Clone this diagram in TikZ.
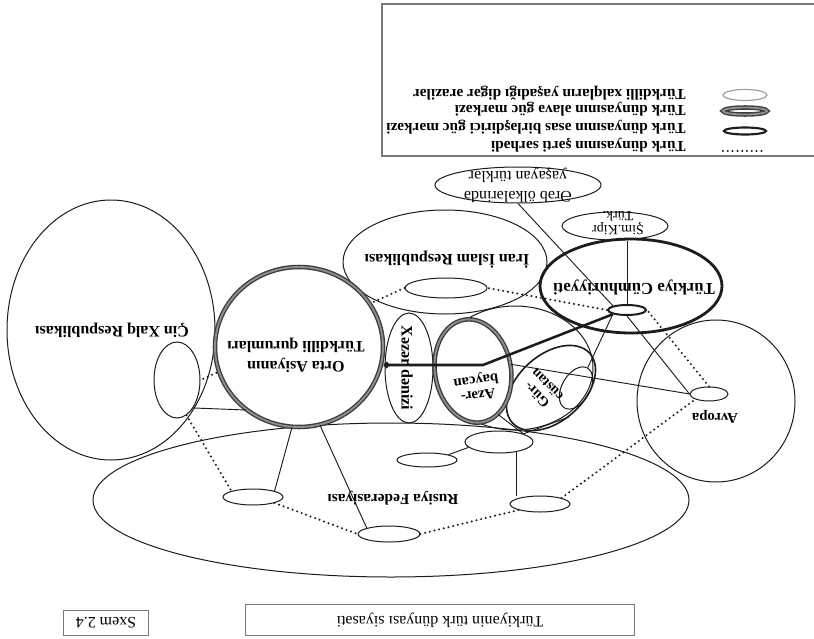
\documentclass[tikz,border=0pt]{standalone}
\usepackage{fontspec}
\setmainfont{Liberation Serif}
\usetikzlibrary{arrows.meta,shapes.geometric}
\definecolor{InkBlack}{HTML}{1C1C1C}
\definecolor{RingGray}{HTML}{3C3C3C}
\definecolor{RingCore}{HTML}{8E8E8E}
\definecolor{PaleLine}{HTML}{A0A0A0}
\definecolor{FrameGray}{HTML}{7A7A7A}

\begin{document}
\begin{tikzpicture}[
  x=0.75pt, y=-0.75pt,
  esize/.style 2 args={minimum width=#1*1.5pt, minimum height=#2*1.5pt},
  region/.style={ellipse, draw=InkBlack, line width=0.75pt, inner sep=0pt},
  power/.style={ellipse, draw=RingGray, line width=1pt, double=RingCore,
    double distance=1.4pt, inner sep=0pt},
  core/.style={ellipse, draw=InkBlack, line width=2.1pt, inner sep=0pt},
  border/.style={draw=InkBlack, line width=1.7pt, line cap=round,
    dash pattern=on 0pt off 3.6pt},
  link/.style={draw=InkBlack, line width=0.7pt},
  route/.style={-{Circle[length=4.5pt]}, draw=InkBlack, line width=1.9pt},
  lbl/.style={rotate=180, align=center, inner sep=0pt,
    font=\bfseries\fontsize{12}{15}\selectfont},
  note/.style={rotate=180, align=center, inner sep=0pt,
    font=\fontsize{12}{14}\selectfont},
  legtext/.style={rotate=180, anchor=west, inner sep=0pt,
    font=\bfseries\fontsize{11.5}{13}\selectfont},
  caption/.style={rotate=180, draw=FrameGray, line width=0.9pt,
    font=\fontsize{12}{14}\selectfont}
]
\fill[white] (0,0) rectangle (814,639);
\useasboundingbox (0,0) rectangle (814,639);

% legend
\draw[FrameGray, line width=1pt] (814,4) -| (382,156) -- (814,156);
\node[region, draw=PaleLine, line width=0.9pt, esize={22}{5.5}] (legLight) at (745,95) {};
\node[power, esize={22}{3.5}] (legPower) at (745,111) {};
\node[core, line width=1.6pt, esize={21}{3.5}] (legCore) at (745,131) {};
\coordinate (legDotA) at (723,151);
\coordinate (legDotB) at (763,151);
\draw[border] (legDotA) -- (legDotB);
\node[legtext] (legTxtA) at (686,93) {Türkdilli xalqların yaşadığı digər ərazilər};
\node[legtext] (legTxtB) at (686,109) {Türk dünyasının əlavə güc mərkəzi};
\node[legtext] (legTxtC) at (686,127) {Türk dünyasının əsas birləşdirici güc mərkəzi};
\node[legtext] (legTxtD) at (686,145) {Türk dünyasının şərti sərhədi};

% regions
\node[region, esize={298}{77}] (rusiya) at (391,500) {};
\node[region, esize={104}{130}] (cin) at (111,330) {};
\node[region, esize={23}{38}] (cinIn) at (177,380) {};
\node[region, esize={79}{81}] (avropa) at (716,401) {};
\node[region, esize={19}{7}] (avrIn) at (709,394) {};
\node[region, esize={102}{52}] (iran) at (445,262) {};
\node[region, esize={41}{10}] (iranIn) at (446,288) {};
\node[region, esize={83}{18}] (ereb) at (518,185) {};
\node[region, esize={53}{14}] (kipr) at (615,226) {};
\node[region, esize={78}{62}] (qafqaz) at (515,368) {};
\node[region, esize={24}{55}] (xezer) at (409,368) {};
\node[region, line width=1.2pt, esize={52}{33}, rotate=42] (gurc) at (551,388) {};
\node[region, esize={14}{23}, rotate=-30] (gurcIn) at (576,388) {};
\node[region, esize={30}{8}] (rusA) at (253,497) {};
\node[region, esize={31}{8}] (rusB) at (389,534) {};
\node[region, esize={30}{8}] (rusC) at (540,504) {};
\node[region, esize={34}{11}] (rusD) at (499,442) {};
\node[region, esize={30}{7}] (rusE) at (427,460) {};
\node[core, esize={91}{47}] (turk) at (631,286) {};
\node[core, line width=1.5pt, esize={19}{5}] (hub) at (627,310) {};

% border of the turkic world
\draw[border] (hub.west) -- (iranIn.east);
\draw[border] (iranIn.west) -- (cinIn.east);
\draw[border] (cinIn.-75) -- (rusA.north west);
\draw[border] (rusA.south east) -- (rusB.west);
\draw[border] (rusB.east) -- (rusC.south west);
\draw[border] (rusC.north east) -- (avrIn.south west);
\draw[border] (avrIn.north) -- (hub.east);

% ties
\draw[link] (hub.north) -- (hub.north |- kipr.south);
\draw[link] (ereb.south) -- (hub.north west);
\draw[link] (hub.south) -- (avrIn.west);
\draw[link] (hub.south west) -- (gurcIn.north);
\draw[link] (rusE.north east) -- (rusD.190);
\draw[link] (rusD.-30) -- (rusD.-30 |- rusC.north);
\draw[link] (gurc.-100) -- (rusD.north east);

% power centres
\node[power, fill=white, esize={84}{80}] (orta) at (299,347) {};
\node[power, fill=white, esize={38}{52}, rotate=10] (azer) at (473,371) {};
\draw[link] (cinIn.-60) -- (orta.230);
\draw[link] (orta.265) -- (rusA.north east);
\draw[link] (orta.-75) -- (rusB.north west);
\draw[link] (azer.east) -- (avrIn.west);
\draw[link] (azer.-70) -- (rusD.north east);

\coordinate (bend) at (483,365);
\draw[route] (hub.south west) -- (bend) -- (bend -| orta.east);

% labels
\node[lbl] (cinTxt) at (112,330) {Çin Xalq Respublikası};
\node[lbl] (ortaTxt) at (296,355) {Orta Asiyanın\\Türkdilli qurumları};
\node[lbl] (iranTxt) at (447,260) {İran İslam Respublikası};
\node[lbl, font=\bfseries\fontsize{12.5}{15}\selectfont] (turkTxt) at (634,287) {Türkiyə Cümhuriyyəti};
\node[note, font=\fontsize{10.5}{10}\selectfont] (kiprTxt) at (618,223) {Şim.Kipr\\Türk.};
\node[note, font=\fontsize{12}{15}\selectfont] (erebTxt) at (518,185) {Ərəb ölkələrində\\yaşayan türklər};
\node[lbl, rotate=90] (xezerTxt) at (407,368) {Xəzər dənizi};
\node[lbl, rotate=8, font=\bfseries\fontsize{11}{11}\selectfont] (azerTxt) at (477,387) {Azər-\\baycan};
\node[lbl, rotate=-45, font=\bfseries\fontsize{10.5}{11}\selectfont] (gurcTxt) at (542,390) {Gür-\\cüstan};
\node[lbl, font=\bfseries\fontsize{11}{13}\selectfont] (avropaTxt) at (715,417) {Avropa};
\node[lbl, font=\bfseries\fontsize{11.5}{13}\selectfont] (rusTxt) at (393,498) {Rusiya Federasiyası};

% captions
\node[caption, minimum width=292pt, minimum height=23pt] (title) at (440,620) {Türkiyənin türk dünyası siyasəti};
\node[caption, minimum width=64pt, minimum height=19pt] (sxem) at (106,623) {Sxem 2.4};
\end{tikzpicture}
\end{document}
